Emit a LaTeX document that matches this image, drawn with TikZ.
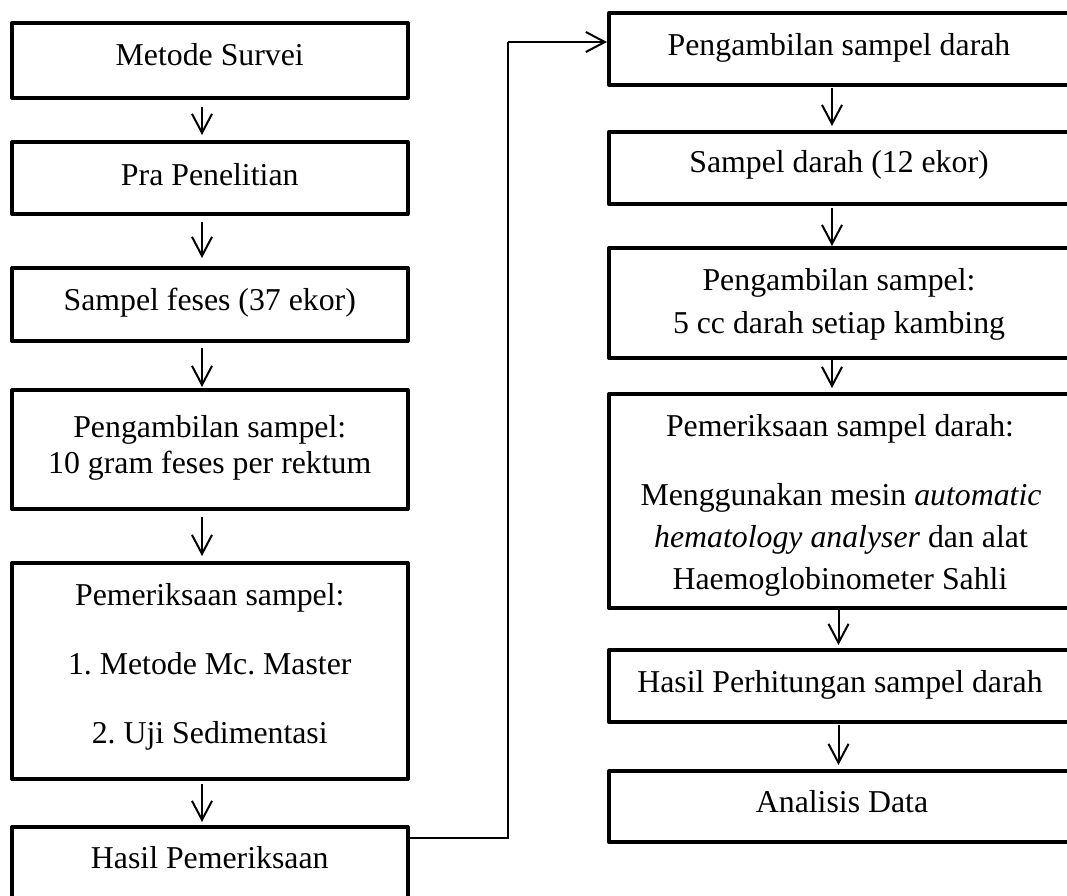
\documentclass[tikz,border=0pt]{standalone}
\usepackage{fontspec}
\setmainfont{Liberation Serif}
\usetikzlibrary{arrows.meta}
\frenchspacing
\begin{document}
\begin{tikzpicture}[x=1pt,y=-1pt,
  box/.style={draw, line width=4pt, line join=round, inner sep=0pt, outer sep=0pt},
  lbox/.style={box, minimum width=395.5pt},
  rbox/.style={box, minimum width=462pt},
  txt/.style={anchor=base, inner sep=0pt, outer sep=0pt, font=\fontsize{31.8}{38}\selectfont\frenchspacing},
  arr/.style={draw, line width=2pt, -{Straight Barb[length=19pt,width=20pt]}},
  conn/.style={draw, line width=2pt}]
\useasboundingbox (0,0) rectangle (1067,895);

% axes for arrows
\coordinate (axL) at (202,0);
\coordinate (axR) at (832,0);
\coordinate (axS) at (838.5,0);

% left column
\node[lbox, minimum height=75pt]  (L1) at (209.75,60.5) {};
\node[lbox, minimum height=72pt]  (L2) at (209.75,178) {};
\node[lbox, minimum height=73pt]  (L3) at (209.75,304.5) {};
\node[lbox, minimum height=119pt] (L4) at (209.75,449.5) {};
\node[lbox, minimum height=216pt] (L5) at (209.75,671) {};
\node[lbox, minimum height=78pt]  (L6) at (209.75,866) {};

\node[txt] (L1t)  at (209.75,65)  {Metode Survei};
\node[txt] (L2t)  at (209.75,185) {Pra Penelitian};
\node[txt] (L3t)  at (209.75,310) {Sampel feses (37 ekor)};
\node[txt] (L4ta) at (209.75,437) {Pengambilan sampel:};
\node[txt] (L4tb) at (209.75,473) {10 gram feses per rektum};
\node[txt] (L5ta) at (209.75,605) {Pemeriksaan sampel:};
\node[txt] (L5tb) at (209.75,674) {1. Metode Mc. Master};
\node[txt] (L5tc) at (209.75,743) {2. Uji Sedimentasi};
\node[txt] (L6t)  at (209.75,868) {Hasil Pemeriksaan};

% right column
\node[rbox, minimum height=72pt]  (R1) at (840,49) {};
\node[rbox, minimum height=72pt]  (R2) at (840,168) {};
\node[rbox, minimum height=110pt] (R3) at (840,303) {};
\node[rbox, minimum height=214pt] (R4) at (840,501) {};
\node[rbox, minimum height=72pt]  (R5) at (840,686) {};
\node[rbox, minimum height=71pt]  (R6) at (840,806.5) {};

\node[txt] (R1t)  at (839,55)  {Pengambilan sampel darah};
\node[txt] (R2t)  at (839,172) {Sampel darah (12 ekor)};
\node[txt] (R3ta) at (839,290) {Pengambilan sampel:};
\node[txt] (R3tb) at (839,333) {5 cc darah setiap kambing};
\node[txt] (R4ta) at (840,436) {Pemeriksaan sampel darah:};
\node[txt] (R4tb) at (841,505) {Menggunakan mesin \textit{automatic}};
\node[txt] (R4tc) at (841,547) {\textit{hematology analyser} dan alat};
\node[txt] (R4td) at (840,589) {Haemoglobinometer Sahli};
\node[txt] (R5t)  at (840,692) {Hasil Perhitungan sampel darah};
\node[txt] (R6t)  at (842,812) {Analisis Data};

% left arrows
\draw[arr, shorten <=9pt, shorten >=7pt] (L1.south -| axL) -- (L2.north -| axL);
\draw[arr, shorten <=8pt, shorten >=10pt] (L2.south -| axL) -- (L3.north -| axL);
\draw[arr, shorten <=7pt, shorten >=3pt] (L3.south -| axL) -- (L4.north -| axL);
\draw[arr, shorten <=8pt, shorten >=7pt] (L4.south -| axL) -- (L5.north -| axL);
\draw[arr, shorten <=5pt, shorten >=5pt] (L5.south -| axL) -- (L6.north -| axL);

% right arrows
\draw[arr, shorten <=3pt, shorten >=6pt] (R1.south -| axR) -- (R2.north -| axR);
\draw[arr, shorten <=4pt, shorten >=2pt] (R2.south -| axR) -- (R3.north -| axR);
\draw[arr, shorten <=2pt, shorten >=6pt] (R3.south -| axR) -- (R4.north -| axR);
\draw[arr, shorten <=2pt, shorten >=5pt] (R4.south -| axS) -- (R5.north -| axS);
\draw[arr, shorten <=3pt, shorten >=6pt] (R5.south -| axS) -- (R6.north -| axS);

% connector from left column to right column
\coordinate (j1) at (508,838);
\coordinate (j2) at (508,42);
\draw[conn] (j1 -| L6.east) -- (j1) -- (j2);
\draw[arr, shorten >=2pt] (j2) -- (j2 -| R1.west);
\end{tikzpicture}
\end{document}
